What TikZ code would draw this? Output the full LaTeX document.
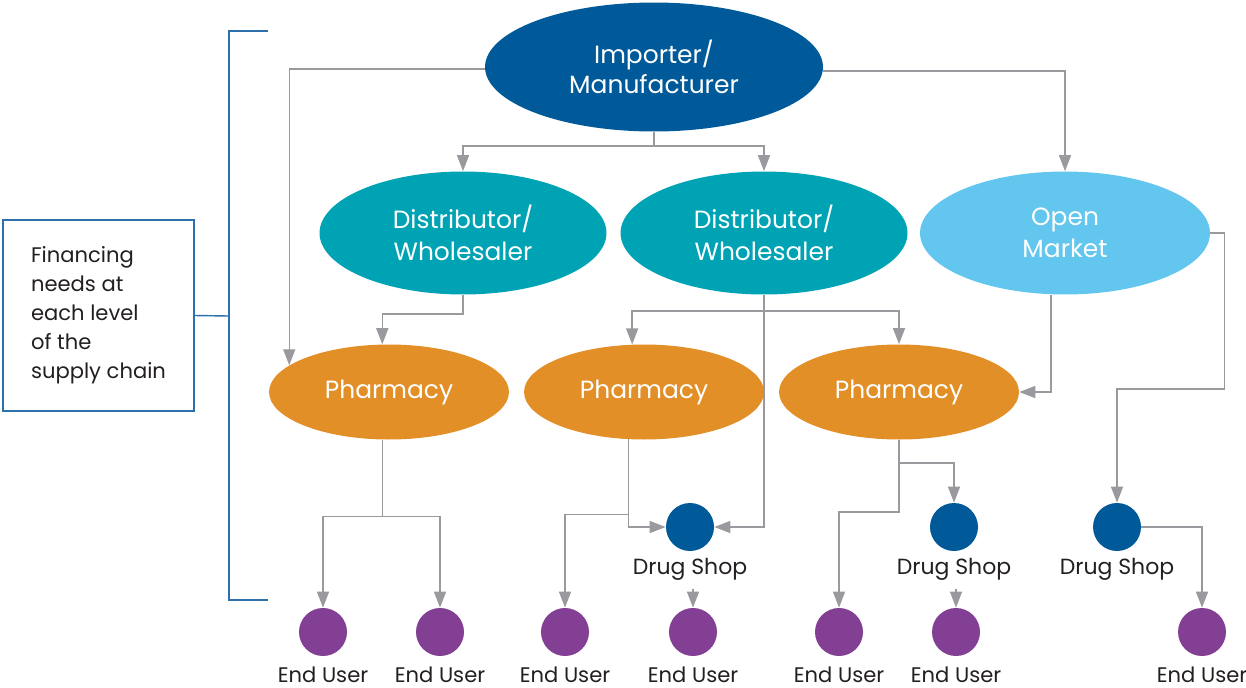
\documentclass[tikz,border=0pt]{standalone}
\usepackage{fontspec}
\setmainfont{Poppins}
\usepackage{tikz}
\usetikzlibrary{shapes.geometric, arrows.meta}
\definecolor{supplierblue}{RGB}{0,90,154}
\definecolor{distribteal}{RGB}{0,163,180}
\definecolor{marketblue}{RGB}{99,198,238}
\definecolor{pharmorange}{RGB}{227,143,39}
\definecolor{userpurple}{RGB}{130,63,147}
\definecolor{linkgray}{RGB}{154,154,158}
\definecolor{bracketblue}{RGB}{46,111,173}
\definecolor{labelgray}{RGB}{35,31,32}
\tikzstyle{tier} = [ellipse, inner sep=0pt, text centered, align=center, text=white, font=\fontsize{14.2}{18}\selectfont]
\tikzstyle{importer} = [tier, minimum width=6.76cm, minimum height=2.58cm, fill=supplierblue]
\tikzstyle{distributor} = [tier, minimum width=5.74cm, minimum height=2.46cm, fill=distribteal]
\tikzstyle{market} = [tier, minimum width=5.8cm, minimum height=2.46cm, fill=marketblue]
\tikzstyle{pharmacy} = [tier, minimum width=4.8cm, minimum height=1.9cm, fill=pharmorange]
\tikzstyle{shop} = [circle, minimum size=0.96cm, inner sep=0pt, fill=supplierblue]
\tikzstyle{user} = [circle, minimum size=0.96cm, inner sep=0pt, fill=userpurple]
\tikzstyle{caption} = [text=labelgray, inner sep=1pt, font=\fontsize{12.5}{15}\selectfont]
\tikzstyle{usercaption} = [caption, inner xsep=0pt, font=\fontsize{12}{15}\selectfont]
\tikzstyle{note} = [rectangle, draw=bracketblue, line width=0.8pt, minimum width=3.82cm, minimum height=3.82cm, align=left, text=labelgray, font=\fontsize{12}{16.5}\selectfont]
\tikzstyle{arrow} = [draw=linkgray, line width=0.8pt, -{Triangle[length=0.32cm, width=0.24cm]}]
\tikzstyle{bracket} = [draw=bracketblue, line width=0.8pt]

\begin{document}
\begin{tikzpicture}[x=0.02cm, y=-0.02cm, node distance=0.85cm]
\useasboundingbox (0,0) rectangle (1246,687);
\node (importer) [importer] at (654,67) {Importer/\\[-1pt]Manufacturer};
\node (dist1) [distributor] at (463,233) {Distributor/\\Wholesaler};
\node (dist2) [distributor] at (764,233) {Distributor/\\Wholesaler};
\node (market) [market] at (1065,233) {Open\\Market};
\node (pharm1) [pharmacy] at (389,392) {Pharmacy};
\node (pharm2) [pharmacy] at (644,392) {Pharmacy};
\node (pharm3) [pharmacy] at (899,392) {Pharmacy};
\node (shop1) [shop] at (690,527) {};
\node (shop2) [shop] at (954,527) {};
\node (shop3) [shop] at (1117,527) {};
\node (shop1name) [caption, below of=shop1] {Drug Shop};
\node (shop2name) [caption, below of=shop2] {Drug Shop};
\node (shop3name) [caption, below of=shop3] {Drug Shop};
\node (user1) [user] at (323,632) {};
\node (user2) [user] at (440,632) {};
\node (user3) [user] at (565,632) {};
\node (user4) [user] at (693,632) {};
\node (user5) [user] at (839,632) {};
\node (user6) [user] at (956,632) {};
\node (user7) [user] at (1202,632) {};
\node (user1name) [usercaption, below of=user1] {End User};
\node (user2name) [usercaption, below of=user2] {End User};
\node (user3name) [usercaption, below of=user3] {End User};
\node (user4name) [usercaption, below of=user4] {End User};
\node (user5name) [usercaption, below of=user5] {End User};
\node (user6name) [usercaption, below of=user6] {End User};
\node (user7name) [usercaption, below of=user7] {End User};
\node (financing) [note] at (98.5,315.5) {Financing\\needs at\\each level\\of the\\supply chain};
\coordinate (bracetop) at (268,31);
\coordinate (bracemid) at (229,316);
\coordinate (bracebottom) at (268,600);
\draw [bracket] (bracetop) -| (bracemid) |- (bracebottom);
\draw [bracket] (financing.east) -- (bracemid);
\draw [arrow] ([yshift=-0.04cm]importer.west) -| (pharm1.165);
\draw [arrow] ([yshift=-0.08cm]importer.east) -| (market.north);
\draw [arrow] (importer.south) -- ++(0,14) -| (dist1.north);
\draw [arrow] (importer.south) -- ++(0,14) -| (dist2.north);
\draw [arrow] (dist1.south) -- ++(0,19) -| (pharm1.98);
\draw [arrow] (dist2.south) -- ++(0,16) -| (pharm2.104);
\draw [arrow] (dist2.south) -- ++(0,16) -| (pharm3.north);
\draw [arrow] (dist2.south) |- (shop1.east);
\draw [arrow] ([xshift=-0.28cm]market.south) |- (pharm3.east);
\draw [arrow] (market.east) -- ++(14,0) -- ++(0,156) -| (shop3.north);
\draw [arrow] (pharm1.262) -- ++(0,77) -| (user1.north);
\draw [arrow] (pharm1.262) -- ++(0,77) -| (user2.north);
\draw [arrow] (pharm2.252) |- (shop1.west);
\draw [arrow] (pharm2.252) -- ++(0,75) -| (user3.north);
\draw [arrow] (pharm3.south) -- ++(0,23) -| (shop2.north);
\draw [arrow] (pharm3.south) -- ++(0,72) -| (user5.north);
\draw [arrow] (shop3.east) -| (user7.north);
\draw [arrow, shorten <=0.12cm] (shop1name.south -| user4.north) -- (user4.north);
\draw [arrow, shorten <=0.12cm] (shop2name.south -| user6.north) -- (user6.north);
\end{tikzpicture}
\end{document}
